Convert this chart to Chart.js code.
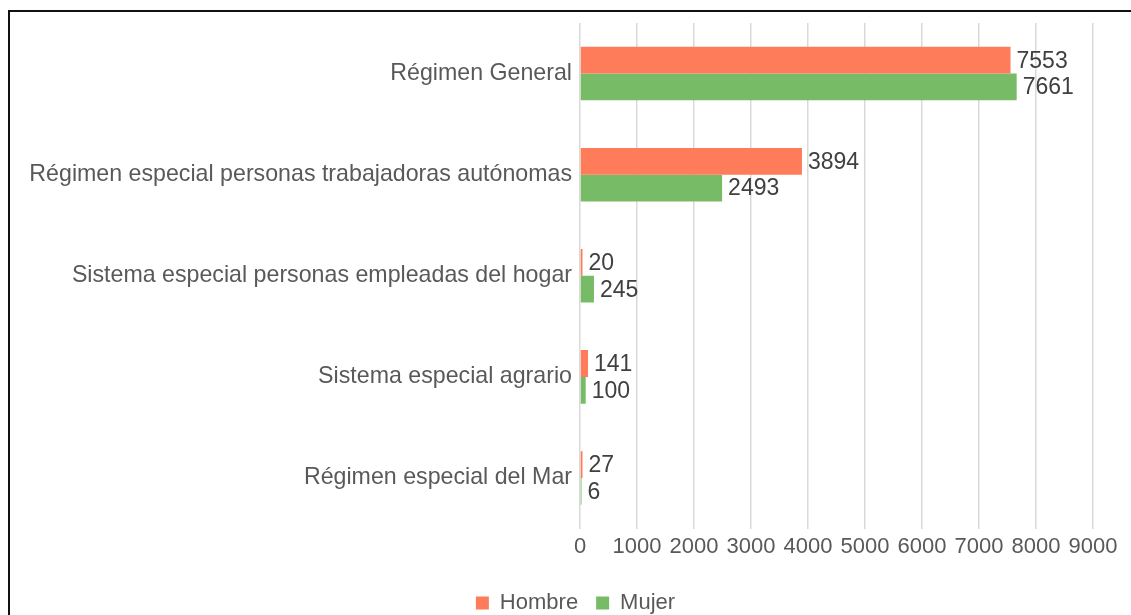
<!DOCTYPE html>
<html>
<head>
<meta charset="utf-8">
<script src="https://cdn.jsdelivr.net/npm/chart.js@4.4.0/dist/chart.umd.min.js"></script>
<style>
  html, body { margin: 0; padding: 0; background: #fff; overflow: hidden; }
  #frame {
    position: absolute; left: 8px; top: 10px;
    width: 1200px; height: 700px;
    border-top: 2px solid #111; border-left: 2px solid #111;
  }
  canvas { display: block; }
</style>
</head>
<body>
<div id="frame"><canvas id="chart" width="1121" height="612"></canvas></div>
<script>
const categories = [
  "Régimen General",
  "Régimen especial personas trabajadoras autónomas",
  "Sistema especial personas empleadas del hogar",
  "Sistema especial agrario",
  "Régimen especial del Mar"
];
const hombre = [7553, 3894, 20, 141, 27];
const mujer = [7661, 2493, 245, 100, 6];
const xTicks = [0, 1000, 2000, 3000, 4000, 5000, 6000, 7000, 8000, 9000];

const FONT = "'Liberation Sans', Arial, sans-serif";

// value labels to the right of each bar
const barLabels = {
  id: "barLabels",
  afterDatasetsDraw(chart) {
    const ctx = chart.ctx;
    ctx.save();
    ctx.font = "23px " + FONT;
    ctx.fillStyle = "#404040";
    ctx.textAlign = "left";
    ctx.textBaseline = "middle";
    chart.data.datasets.forEach((ds, i) => {
      chart.getDatasetMeta(i).data.forEach((bar, j) => {
        ctx.fillText(String(ds.data[j]), bar.x + 6, bar.y + 1);
      });
    });
    ctx.restore();
  }
};

// legend sits a bit right of the canvas centre in the original
const shiftLegend = {
  id: "shiftLegend",
  afterLayout(chart) {
    chart.legend.left += 24;
    chart.legend.right += 24;
  }
};

new Chart(document.getElementById("chart").getContext("2d"), {
  type: "bar",
  data: {
    labels: categories,
    datasets: [
      { label: "Hombre", data: hombre, backgroundColor: "#FF7C5A", minBarLength: 2.5 },
      { label: "Mujer", data: mujer, backgroundColor: "#77BB66", minBarLength: 1.5 }
    ]
  },
  options: {
    indexAxis: "y",
    responsive: false,
    animation: false,
    categoryPercentage: 0.53,
    barPercentage: 1,
    layout: { padding: { top: 11, right: 38, left: 0, bottom: 0 } },
    scales: {
      x: {
        min: 0,
        max: 9000,
        afterBuildTicks: (scale) => { scale.ticks = xTicks.map(v => ({ value: v })); },
        afterFit: (scale) => { scale.height += 9; },
        grid: { color: "#d9d9d9", lineWidth: 1.5, drawTicks: false },
        border: { display: false },
        ticks: {
          color: "#595959", font: { family: FONT, size: 22 }, padding: 5, maxRotation: 0,
          callback: (v) => String(v)
        }
      },
      y: {
        grid: { display: false, drawTicks: false },
        border: { display: false },
        afterFit: (scale) => { scale.width = 570; scale.paddingTop = 0; scale.paddingBottom = 0; },
        ticks: { color: "#595959", font: { family: FONT, size: 23.2 }, padding: 8 }
      }
    },
    plugins: {
      legend: {
        position: "bottom",
        labels: {
          boxWidth: 13, boxHeight: 13, padding: 18,
          color: "#595959", font: { family: FONT, size: 22 }
        }
      },
      tooltip: { enabled: false }
    }
  },
  plugins: [barLabels, shiftLegend]
});
</script>
</body>
</html>
